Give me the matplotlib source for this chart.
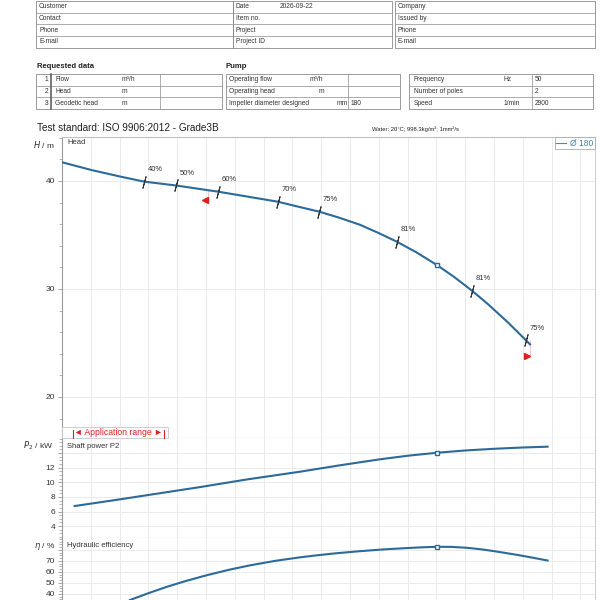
import numpy as np
import matplotlib
matplotlib.use("Agg")
import matplotlib.pyplot as plt
from matplotlib.ticker import MultipleLocator, FixedLocator, FixedFormatter
from matplotlib.lines import Line2D
from matplotlib.patches import Rectangle

plt.rcParams['font.family'] = ['Liberation Sans', 'DejaVu Sans']

# pump curves (flow in m3/h)
head_flow = [0, 5.2, 10, 14.24, 19.79, 27.08, 32, 37.45, 41, 44.62, 48, 51.7, 55,
             58.11, 61.5, 65.1, 68, 71.18, 74, 77.5, 80.56, 81.25]
head_m = [41.73, 41.0, 40.42, 39.94, 39.58, 39.01, 38.57, 38.08, 37.62, 37.16, 36.62,
          35.95, 35.17, 34.38, 33.4, 32.21, 31.14, 29.84, 28.57, 26.86, 25.24, 24.87]

power_flow = [2.2, 9.5, 24.0, 32.0, 41.3, 48.0, 55.0, 60.0, 65.1, 70.0, 75.2, 80.0, 84.3]
power_kw = [6.75, 7.6, 9.35, 10.38, 11.45, 12.3, 13.13, 13.64, 14.05, 14.36, 14.6, 14.77, 14.88]

eff_flow = [11.8, 15.0, 18.2, 21.5, 25.1, 29.0, 32.6, 37.0, 41.3, 44.0, 47.1, 51.0,
            55.1, 57.5, 60.1, 62.5, 65.05, 67.5, 70.3, 72.8, 75.2, 78.9, 81.5, 84.3]
eff_pct = [34.5, 40.7, 46.5, 51.8, 57.0, 62.0, 66.0, 70.1, 73.3, 75.0, 76.75, 78.6,
           80.25, 81.05, 81.8, 82.42, 82.9, 82.85, 82.0, 80.6, 78.8, 75.65, 73.2, 70.4]

# iso-efficiency marks on the head curve
iso_flow = [14.24, 19.79, 27.08, 37.45, 44.62, 58.11, 71.18, 80.56]
iso_head = [39.94, 39.58, 39.01, 38.08, 37.16, 34.38, 29.84, 25.24]
iso_labels = ['40%', '50%', '60%', '70%', '75%', '81%', '81%', '75%']

# best efficiency point
bep_flow = 65.1
bep_head = 32.21
bep_power = 14.05
bep_eff = 82.9

# application range triangles
range_flow = [24.8, 80.7]
range_head = [38.2, 23.8]

# header tables
customer_rows = ['Customer', 'Contact', 'Phone', 'E-mail']
item_rows = ['Date', 'Item no.', 'Project', 'Project ID']
item_values = ['2026-09-22', '', '', '']
company_rows = ['Company', 'Issued by', 'Phone', 'E-mail']
req_labels = ['Flow', 'Head', 'Geodetic head']
req_units = ['m\u00b3/h', 'm', 'm']
pump_labels = ['Operating flow', 'Operating head', 'Impeller diameter designed']
pump_units = ['m\u00b3/h', 'm', 'mm']
pump_values = ['', '', '180']
motor_labels = ['Frequency', 'Number of poles', 'Speed']
motor_units = ['Hz', '', '1/min']
motor_values = ['50', '2', '2900']

blue = '#2b6a99'
grid_c = '#ebebeb'
frame_c = '#9a9a9a'
txt_c = '#333333'

fig = plt.figure(figsize=(6, 6), dpi=100)
fig.patch.set_facecolor('white')

def fig_box(top, bottom):
    # pixel rows -> figure fraction
    return [62 / 600, 1 - bottom / 600, (595 - 62) / 600, (bottom - top) / 600]

ax_h = fig.add_axes(fig_box(137, 438))
ax_p = fig.add_axes(fig_box(438, 538))
ax_e = fig.add_axes(fig_box(538, 600))

for ax in (ax_h, ax_p, ax_e):
    ax.set_xlim(0, 92.53)
    ax.set_xticks(np.arange(0, 95, 5))
    ax.tick_params(axis='x', length=0, labelbottom=False)
    ax.tick_params(axis='y', which='both', direction='out', colors=frame_c,
                   labelcolor=txt_c, labelsize=6, pad=2)
    ax.tick_params(axis='y', which='major', length=3, width=0.6)
    ax.tick_params(axis='y', which='minor', length=2.5, width=0.5)
    ax.grid(True, which='major', color=grid_c, lw=0.7)
    ax.set_axisbelow(True)
    ax.spines['left'].set_color(frame_c)
    ax.spines['right'].set_color('#d0d0d0')
    ax.spines['top'].set_visible(False)
    ax.spines['bottom'].set_color(frame_c)
    for s in ax.spines.values():
        s.set_linewidth(0.8)
ax_h.spines['top'].set_visible(True)
ax_h.spines['top'].set_color('#c0c0c0')
ax_e.spines['bottom'].set_visible(False)

# head panel
ax_h.set_ylim(16.2, 44.07)
ax_h.set_yticks([20, 30, 40])
ax_h.yaxis.set_minor_locator(MultipleLocator(2))
ax_h.plot(head_flow, head_m, color=blue, lw=1.5, zorder=3)
ax_h.plot(iso_flow, iso_head, ls='none', marker=(2, 2, -15), ms=9,
          mec='#333333', mew=0.7, zorder=4)
for f, h, lab in zip(iso_flow, iso_head, iso_labels):
    ax_h.annotate(lab, (f, h), xytext=(2.5, 8.5), textcoords='offset points',
                  ha='left', va='center', fontsize=5.5, color=txt_c)
ax_h.plot([bep_flow], [bep_head], ls='none', marker='s', ms=3.2, mfc='white',
          mec=blue, mew=1.0, zorder=5)
curve_at_range = np.interp(range_flow, head_flow, head_m)
for f, h0, h1 in zip(range_flow, curve_at_range, range_head):
    ax_h.plot([f + 0.5, f + 0.5], [h0, h1], color='#f3c9c9', lw=0.8, zorder=2)
ax_h.plot([range_flow[0]], [range_head[0]], ls='none', marker='<', ms=4.5,
          color='#e0201b', zorder=5)
ax_h.plot([range_flow[1]], [range_head[1]], ls='none', marker='>', ms=4.5,
          color='#e0201b', zorder=5)
ax_h.text(0.01, 0.995, 'Head', transform=ax_h.transAxes, ha='left', va='top',
          fontsize=5.5, color=txt_c)
leg = ax_h.legend(handles=[Line2D([], [], color='#4a86b5', lw=0.8)],
                  labels=['\u00d8 180'], loc='upper right', fontsize=6.2,
                  frameon=True, fancybox=False, framealpha=1, edgecolor='#aaaaaa',
                  borderpad=0.15, borderaxespad=0.05, handlelength=1.1,
                  handletextpad=0.5, labelcolor='#4a86b5')
leg.get_frame().set_linewidth(0.6)

# shaft power panel
ax_p.set_ylim(2.37, 16.07)
ax_p.yaxis.set_major_locator(FixedLocator([4, 6, 8, 10, 12, 14]))
ax_p.yaxis.set_major_formatter(FixedFormatter(['4', '6', '8', '10', '12', '']))
ax_p.yaxis.set_minor_locator(MultipleLocator(0.5))
ax_p.plot(power_flow, power_kw, color=blue, lw=1.5, zorder=3)
ax_p.plot([bep_flow], [bep_power], ls='none', marker='s', ms=3.2, mfc='white',
          mec=blue, mew=1.0, zorder=5)
ax_p.text(0.01, 0.95, 'Shaft power P2', transform=ax_p.transAxes, ha='left',
          va='top', fontsize=5.5, color=txt_c)

# efficiency panel
ax_e.set_ylim(34.5, 90.9)
ax_e.yaxis.set_major_locator(FixedLocator([40, 50, 60, 70, 80]))
ax_e.yaxis.set_major_formatter(FixedFormatter(['40', '50', '60', '70', '']))
ax_e.yaxis.set_minor_locator(MultipleLocator(2.5))
ax_e.plot(eff_flow, eff_pct, color=blue, lw=1.5, zorder=3)
ax_e.plot([bep_flow], [bep_eff], ls='none', marker='s', ms=3.2, mfc='white',
          mec=blue, mew=1.0, zorder=5)
ax_e.text(0.01, 0.93, 'Hydraulic efficiency', transform=ax_e.transAxes,
          ha='left', va='top', fontsize=5.5, color=txt_c)

# overlay in pixel coordinates for the sheet layout
ov = fig.add_axes([0, 0, 1, 1], zorder=10)
ov.set_xlim(0, 600)
ov.set_ylim(600, 0)
ov.axis('off')
ov.patch.set_visible(False)

line_c = '#8c8c8c'
fs = 4.8

def box(x0, x1, ys, vlines=()):
    ov.add_patch(Rectangle((x0, ys[0]), x1 - x0, ys[-1] - ys[0], fill=False,
                           ec=line_c, lw=0.6))
    for y in ys[1:-1]:
        ov.plot([x0, x1], [y, y], color=line_c, lw=0.5)
    for x in vlines:
        ov.plot([x, x], [ys[0], ys[-1]], color=line_c, lw=0.5)

top_ys = [1, 12.7, 24.3, 36, 47.7]
top_mid = [(a + b) / 2 for a, b in zip(top_ys[:-1], top_ys[1:])]
box(36, 233, top_ys)
box(233, 392, top_ys)
box(395, 595, top_ys)
for y, a, b, v, c in zip(top_mid, customer_rows, item_rows, item_values, company_rows):
    ov.text(39, y, a, fontsize=fs, va='center', color=txt_c)
    ov.text(236, y, b, fontsize=fs, va='center', color=txt_c)
    ov.text(280, y, v, fontsize=fs, va='center', color=txt_c)
    ov.text(398, y, c, fontsize=fs, va='center', color=txt_c)

ov.text(37, 67, 'Requested data', fontsize=5.5, fontweight='bold', va='center', color='#222222')
ov.text(226, 67, 'Pump', fontsize=5.5, fontweight='bold', va='center', color='#222222')

mid_ys = [74, 85.7, 97.3, 109]
mid_c = [(a + b) / 2 for a, b in zip(mid_ys[:-1], mid_ys[1:])]
box(36, 222, mid_ys, vlines=[160])
ov.plot([51, 51], [mid_ys[0], mid_ys[-1]], color='#555555', lw=1.1)
for i, (y, lab, u) in enumerate(zip(mid_c, req_labels, req_units)):
    ov.text(48, y, str(i + 1), fontsize=fs, va='center', ha='right', color=txt_c)
    ov.text(55, y, lab, fontsize=fs, va='center', color=txt_c)
    ov.text(122, y, u, fontsize=fs, va='center', color=txt_c)

box(226, 400, mid_ys, vlines=[348])
unit_x = [310, 319, 337]
for y, lab, u, ux, v in zip(mid_c, pump_labels, pump_units, unit_x, pump_values):
    ov.text(229, y, lab, fontsize=fs, va='center', color=txt_c)
    ov.text(ux, y, u, fontsize=fs, va='center', color=txt_c)
    ov.text(351, y, v, fontsize=fs, va='center', color=txt_c)

box(409, 593, mid_ys, vlines=[532])
for y, lab, u, v in zip(mid_c, motor_labels, motor_units, motor_values):
    ov.text(414, y, lab, fontsize=fs, va='center', color=txt_c)
    ov.text(504, y, u, fontsize=fs, va='center', color=txt_c)
    ov.text(535, y, v, fontsize=fs, va='center', color=txt_c)

ov.text(37, 128, 'Test standard: ISO 9906:2012 - Grade3B', fontsize=7.2,
        va='center', color='#222222')
ov.text(372, 129, 'Water: 20\u00b0C; 998.3kg/m\u00b3; 1mm\u00b2/s', fontsize=4.2,
        va='center', color='#222222')

# axis labels
ov.text(55, 145, '$H$ / m', fontsize=6, ha='right', va='center', color=txt_c)
ov.text(53, 446, '$P_2$ / kW', fontsize=6, ha='right', va='center', color=txt_c)
ov.text(55, 546, '$\\eta$ / %', fontsize=6, ha='right', va='center', color=txt_c)

# application range tag
ov.add_patch(Rectangle((62, 427), 106, 11, fc='white', ec='#c8c8c8', lw=0.6))
ov.plot([73, 73], [430, 438], color='#e0201b', lw=0.8)
ov.plot([164, 164], [430, 438], color='#e0201b', lw=0.8)
ov.text(118.5, 432.3, '\u25c4 Application range \u25ba', fontsize=6.2,
        ha='center', va='center', color='#e0201b')

fig.savefig('out.png', dpi=100)
